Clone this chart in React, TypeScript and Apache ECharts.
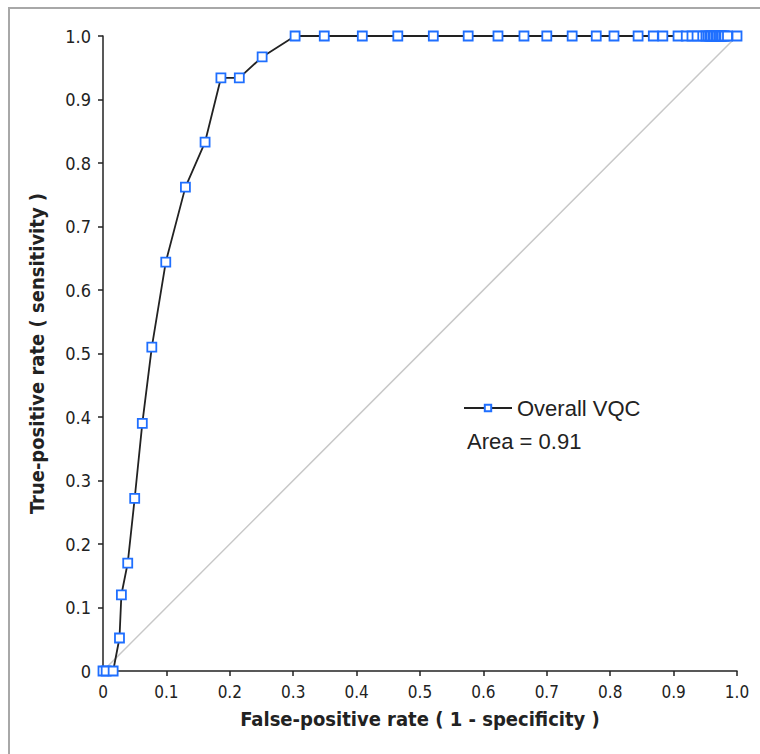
import React, { useEffect, useRef } from "react";
import * as echarts from "echarts";

const fpr = [
  0, 0.005, 0.016, 0.026, 0.029, 0.039, 0.05, 0.062, 0.077, 0.099, 0.13, 0.161,
  0.186, 0.215, 0.251, 0.303, 0.349, 0.409, 0.465, 0.521, 0.576, 0.623, 0.664,
  0.7, 0.74, 0.778, 0.806, 0.844, 0.868, 0.883, 0.907, 0.92, 0.929, 0.937,
  0.946, 0.951, 0.954, 0.957, 0.959, 0.962, 0.964, 0.967, 0.969, 0.972, 0.974,
  0.976, 0.979, 0.981, 0.985, 1.0,
];
const tpr = [
  0, 0, 0, 0.052, 0.12, 0.17, 0.272, 0.39, 0.51, 0.644, 0.762, 0.833, 0.934,
  0.934, 0.967, 1, 1, 1, 1, 1, 1, 1, 1, 1, 1, 1, 1, 1, 1, 1, 1, 1, 1, 1, 1, 1,
  1, 1, 1, 1, 1, 1, 1, 1, 1, 1, 1, 1, 1, 1,
];
const diagonal = [
  [0, 0],
  [1, 1],
];
const seriesName = "Overall VQC";
const areaText = "Area = 0.91";
const xTitle = "False-positive rate ( 1 - specificity )";
const yTitle = "True-positive rate ( sensitivity )";

const narrow = "'Liberation Sans Narrow', 'DejaVu Sans Condensed', 'Arial Narrow', sans-serif";
const regular = "'Liberation Sans', Arial, sans-serif";

const fmt = (v: number) => (Math.abs(v) < 1e-9 ? "0" : v.toFixed(1));

export default function App() {
  const ref = useRef<HTMLDivElement>(null);
  useEffect(() => {
    document.body.style.margin = "0";
    if (!ref.current) return;
    const chart = echarts.init(ref.current, undefined, { renderer: "svg" });
    const rocData = fpr.map((x, i) => [x, tpr[i]]);
    chart.setOption({
      animation: false,
      backgroundColor: "#ffffff",
      grid: { left: 103, top: 36, width: 634, height: 635 },
      legend: {
        left: 458,
        top: 392,
        itemWidth: 48,
        itemHeight: 8,
        itemGap: 6,
        data: [seriesName],
        textStyle: { fontFamily: regular, fontSize: 22, color: "#222" },
        selectedMode: false,
      },
      graphic: [
        {
          type: "rect",
          shape: { x: 9, y: 8, width: 900, height: 900 },
          style: { fill: "none", stroke: "#a8a8a8", lineWidth: 2 },
          silent: true,
        },
        {
          type: "text",
          left: 467,
          top: 430,
          style: { text: areaText, font: `22px ${regular}`, fill: "#222" },
        },
      ],
      xAxis: {
        type: "value",
        min: 0,
        max: 1,
        interval: 0.1,
        name: xTitle,
        nameLocation: "middle",
        nameGap: 38,
        nameTextStyle: { fontFamily: narrow, fontSize: 20, fontWeight: "bold", color: "#222" },
        axisLine: { show: true, lineStyle: { color: "#222", width: 1.5 } },
        axisTick: { show: true, length: 5, lineStyle: { color: "#222", width: 1.5 } },
        axisLabel: { formatter: fmt, fontFamily: narrow, fontSize: 17, color: "#222", margin: 12 },
        splitLine: { show: false },
      },
      yAxis: {
        type: "value",
        min: 0,
        max: 1,
        interval: 0.1,
        name: yTitle,
        nameLocation: "middle",
        nameGap: 56,
        nameTextStyle: { fontFamily: narrow, fontSize: 20, fontWeight: "bold", color: "#222" },
        axisLine: { show: true, lineStyle: { color: "#222", width: 1.5 } },
        axisTick: { show: true, length: 5, lineStyle: { color: "#222", width: 1.5 } },
        axisLabel: { formatter: fmt, fontFamily: narrow, fontSize: 18, color: "#222", margin: 12 },
        splitLine: { show: false },
      },
      series: [
        {
          type: "line",
          name: "diagonal",
          data: diagonal,
          symbol: "none",
          silent: true,
          lineStyle: { color: "#c8c8c8", width: 1.5 },
          z: 1,
        },
        {
          type: "line",
          name: seriesName,
          data: rocData,
          clip: false,
          symbol: "rect",
          symbolSize: 9,
          showAllSymbol: true,
          lineStyle: { color: "#222", width: 1.8 },
          itemStyle: { color: "#ffffff", borderColor: "#1f6fff", borderWidth: 1.8 },
          z: 3,
        },
      ],
    });
    return () => chart.dispose();
  }, []);
  return <div ref={ref} style={{ width: 760, height: 754 }} />;
}
